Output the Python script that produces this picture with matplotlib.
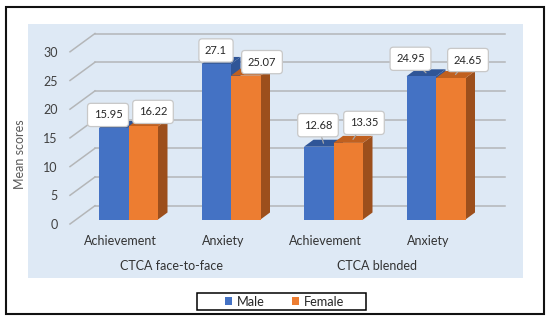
import matplotlib
matplotlib.use("Agg")
import matplotlib.pyplot as plt
from matplotlib.patches import Rectangle
from matplotlib.transforms import ScaledTranslation

plt.rcParams['font.family'] = ['Lato', 'DejaVu Sans']

categories = ["Achievement", "Anxiety", "Achievement", "Anxiety"]
groups = ["CTCA face-to-face", "CTCA blended"]
male = [15.95, 27.1, 12.68, 24.95]
female = [16.22, 25.07, 13.35, 24.65]
male_labels = ["15.95", "27.1", "12.68", "24.95"]
female_labels = ["16.22", "25.07", "13.35", "24.65"]
y_ticks = [0, 5, 10, 15, 20, 25, 30]

W, H = 550, 322
PX_X, PX_Y = 102.5, 5.74         # pixels per category / per unit
X0, Y0 = 128.5, 219.5            # pixel of category 0 / value 0
L, R, T, B = 28, 523, 24, 278    # panel in pixels

fig = plt.figure(figsize=(W / 100, H / 100), dpi=100, facecolor="white")
fig.add_artist(Rectangle((5.5 / W, 1 - 314 / H), 538 / W, 307 / H, transform=fig.transFigure,
                         fill=False, edgecolor="#111111", linewidth=1.5))
ax = fig.add_axes([L / W, 1 - B / H, (R - L) / W, (B - T) / H], facecolor="#DEE9F5")
ax.set_xlim((L - X0) / PX_X, (R - X0) / PX_X)
ax.set_ylim((Y0 - B) / PX_Y, (Y0 - T) / PX_Y)
for s in ax.spines.values():
    s.set_visible(False)

bw = 29.5 / PX_X
dx, dy = 9.5 / PX_X, 7 / PX_Y
back_y = 13.8 / PX_Y
grid_left = (95 - X0) / PX_X
grid_right = (505 - X0) / PX_X
ladder_left = (70 - X0) / PX_X
ladder_drop = 4.5 / PX_Y
GRID = "#B4B6B8"
for v in y_ticks:
    ax.plot([grid_left, grid_right], [v + back_y] * 2, color=GRID, lw=1.1, zorder=1)
    ax.plot([ladder_left, grid_left], [v - ladder_drop, v + back_y], color=GRID, lw=1.1, zorder=1)


def bars(xs, vals, front, side, top, z):
    cont = ax.bar(xs, vals, width=bw, color=front, zorder=z + 0.2, linewidth=0)
    for x, v in zip(xs, vals):
        l, r = x - bw / 2, x + bw / 2
        ax.fill([r, r + dx, r + dx, r], [0, dy, v + dy, v], color=side, lw=0, zorder=z)
        ax.fill([l, r, r + dx, l + dx], [v, v, v + dy, v + dy], color=top, lw=0, zorder=z)
    return cont


idx = list(range(len(categories)))
xm = [i - bw / 2 for i in idx]
xf = [i + bw / 2 for i in idx]
bm = bars(xm, male, "#4472C4", "#2F5597", "#2F5597", 2)
bf = bars(xf, female, "#ED7D31", "#9C4F1C", "#C0601F", 3)

# callout boxes: offsets from the centre of each bar's top face, in pixels
male_off = [(-10.5, 9.5), (-5, 10), (-5.5, 18), (-15.5, 14)]
female_off = [(5, 11), (11.5, 10), (11, 16.5), (12.5, 14.5)]
for xs, vals, texts, offs in ((xm, male, male_labels, male_off), (xf, female, female_labels, female_off)):
    for x, v, t, o in zip(xs, vals, texts, offs):
        ax.annotate(t, xy=(x + dx / 2, v + dy / 2), xytext=o, textcoords="offset pixels",
                    ha="center", va="center", fontsize=8, color="#262626", zorder=6,
                    bbox=dict(boxstyle="round,pad=0.55,rounding_size=0.3", fc="white", ec="#C8C8C8", lw=0.9),
                    arrowprops=dict(arrowstyle="-", color="#A6A6A6", lw=0.9, shrinkA=0, shrinkB=0))

ax.set_yticks(y_ticks)
ax.set_yticklabels([str(v) for v in y_ticks])
ax.tick_params(axis="y", length=0, pad=-21.5, labelsize=9, labelcolor="#404040")
ax.set_xticks(idx)
ax.set_xticklabels(categories)
ax.tick_params(axis="x", length=0, pad=-31, labelsize=9, labelcolor="#333333")
shift_y = ScaledTranslation(0, -4.5 / 100, fig.dpi_scale_trans)
shift_x = ScaledTranslation(-8 / 100, 0, fig.dpi_scale_trans)
for lab in ax.get_yticklabels():
    lab.set_transform(lab.get_transform() + shift_y)
for lab in ax.get_xticklabels():
    lab.set_transform(lab.get_transform() + shift_x)

group_pos = [0.5, 2.5]
for g, x in zip(groups, group_pos):
    ax.text(x, (Y0 - 266.5) / PX_Y, g, ha="center", va="center", fontsize=9, color="#333333",
            transform=ax.transData + shift_x)

fig.text(20 / W, 1 - 154 / H, "Mean scores", rotation=90, ha="center", va="center",
         fontsize=9, color="#595959")

fig.add_artist(Rectangle((197 / W, 1 - 310 / H), 169 / W, 17.5 / H, transform=fig.transFigure,
                         facecolor="white", edgecolor="black", linewidth=1.1))
fig.legend([bm[0], bf[0]], ["Male", "Female"], loc="center", bbox_to_anchor=(284.5 / W, 1 - 301.5 / H),
           ncol=2, frameon=False, fontsize=9.2, handlelength=0.55, handleheight=0.55, handletextpad=0.35,
           columnspacing=2.2, borderpad=0, labelcolor="#262626", borderaxespad=0)

fig.savefig("out.png", dpi=100)
